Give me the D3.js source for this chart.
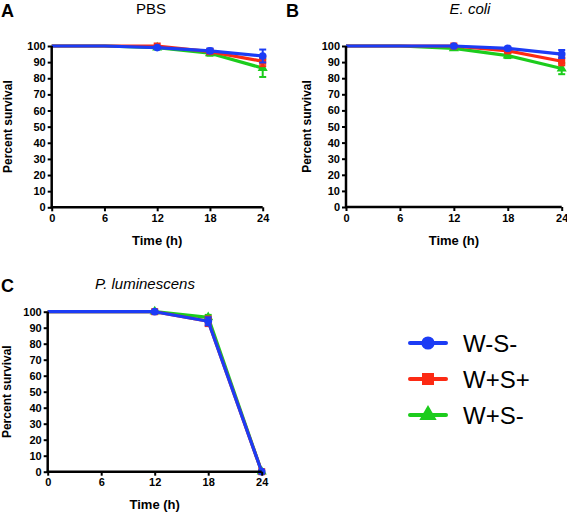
<!DOCTYPE html>
<html><head><meta charset="utf-8">
<script src="https://cdn.jsdelivr.net/npm/d3@7"></script>
<style>body{margin:0;background:#fff}svg{display:block}text{font-family:"Liberation Sans",Arial,sans-serif}</style>
</head><body><svg id="c" width="567" height="513"></svg>
<script>
const times = [0, 6, 12, 18, 24];
const yTicks = [0,10,20,30,40,50,60,70,80,90,100];
const seriesNames = ["W-S-", "W+S+", "W+S-"];
const seriesColors = ["#1c3cf5", "#fc2a14", "#1ccc1c"];
const seriesShapes = ["circle", "square", "triangle"];
// PBS
const pbsWS = [100, 100, 99, 97, 93.8];
const pbsWSerr = [0, 0, 0.5, 1.5, 4];
const pbsWpSp = [100, 100, 100, 96.5, 90.5];
const pbsWpSpErr = [0, 0, 0, 1.5, 3];
const pbsWpSm = [100, 100, 99, 95.5, 86.3];
const pbsWpSmErr = [0, 0, 0.5, 1.5, 5.5];
// E. coli
const ecoWS = [100, 100, 100, 98.5, 95];
const ecoWSerr = [0, 0, 0, 1, 2.5];
const ecoWpSp = [100, 100, 100, 97, 90.5];
const ecoWpSpErr = [0, 0, 0.5, 1, 2.5];
const ecoWpSm = [100, 100, 98.5, 94, 86];
const ecoWpSmErr = [0, 0, 0.5, 1.5, 3.5];
// P. luminescens
const pluWS = [100, 100, 100, 94, 0];
const pluWSerr = [0, 0, 0, 2.5, 0];
const pluWpSp = [100, 100, 100, 94, 0];
const pluWpSpErr = [0, 0, 0, 3, 0];
const pluWpSm = [100, 100, 100, 96.5, 0];
const pluWpSmErr = [0, 0, 0, 1.5, 0];

const panels = [
  {letter:"A", title:"PBS", italic:false, x0:51.7, x1:262.7, yTop:46, yBot:207.3, titleX:151, data:[pbsWS,pbsWpSp,pbsWpSm], err:[pbsWSerr,pbsWpSpErr,pbsWpSmErr], letterX:1, letterY:17, titleY:14, ylabX:8, xlabY:245},
  {letter:"B", title:"E. coli", italic:true, x0:346, x1:561.7, yTop:46, yBot:207, titleX:470, data:[ecoWS,ecoWpSp,ecoWpSm], err:[ecoWSerr,ecoWpSpErr,ecoWpSmErr], letterX:286, letterY:17, titleY:14, ylabX:307, xlabY:245},
  {letter:"C", title:"P. luminescens", italic:true, x0:47.7, x1:261.7, yTop:311.7, yBot:471.7, titleX:145, data:[pluWS,pluWpSp,pluWpSm], err:[pluWSerr,pluWpSpErr,pluWpSmErr], letterX:1, letterY:292, titleY:289, ylabX:7, xlabY:509}
];

const svg = d3.select("#c");

function drawMarker(g, shape, x, y, color, s) {
  if (shape === "circle") g.append("circle").attr("cx", x).attr("cy", y).attr("r", s*0.55).attr("fill", color);
  else if (shape === "square") g.append("rect").attr("x", x - s*0.5).attr("y", y - s*0.5).attr("width", s).attr("height", s).attr("fill", color);
  else g.append("path").attr("d", d3.symbol(d3.symbolTriangle, s*s*0.9)()).attr("transform", `translate(${x},${y})`).attr("fill", color);
}

panels.forEach(p => {
  const g = svg.append("g");
  const x = d3.scaleLinear().domain([0, 24]).range([p.x0, p.x1]);
  const y = d3.scaleLinear().domain([0, 100]).range([p.yBot, p.yTop]);

  [2, 1, 0].forEach(si => {
    const vals = p.data[si], errs = p.err[si], col = seriesColors[si];
    const sg = g.append("g");
    times.forEach((t, i) => {
      if (errs[i] > 0) {
        const cx = x(t), ya = y(vals[i] + errs[i]), yb = y(vals[i] - errs[i]);
        sg.append("line").attr("x1", cx).attr("x2", cx).attr("y1", ya).attr("y2", yb).attr("stroke", col).attr("stroke-width", 2);
        [ya, yb].forEach(yy => sg.append("line").attr("x1", cx - 3.5).attr("x2", cx + 3.5).attr("y1", yy).attr("y2", yy).attr("stroke", col).attr("stroke-width", 2));
      }
    });
    sg.append("path").datum(vals).attr("fill", "none").attr("stroke", col).attr("stroke-width", 3.2).attr("stroke-linejoin", "round")
      .attr("d", d3.line().x((d, i) => x(times[i])).y(d => y(d)));
    times.forEach((t, i) => { if (t >= 12) drawMarker(sg, seriesShapes[si], x(t), y(vals[i]), col, 7); });
  });

  const ya = g.append("g").attr("transform", `translate(${p.x0},0)`).call(d3.axisLeft(y).tickValues(yTicks).tickSize(4).tickPadding(2));
  const xa = g.append("g").attr("transform", `translate(0,${p.yBot})`).call(d3.axisBottom(x).tickValues(times).tickSize(4).tickPadding(3));
  [ya, xa].forEach(a => {
    a.select(".domain").attr("stroke", "#000").attr("stroke-width", 2.5);
    a.selectAll(".tick line").attr("stroke", "#000").attr("stroke-width", 2);
    a.selectAll(".tick text").attr("font-size", 11).attr("font-weight", "bold").attr("fill", "#000").attr("font-family", "Liberation Sans, Arial, sans-serif");
  });
  ya.select(".domain").attr("d", `M0,${p.yBot + 1}V${p.yTop}`);
  xa.select(".domain").attr("d", `M${p.x0 - 1},0H${p.x1}`);

  g.append("text").attr("x", p.letterX).attr("y", p.letterY).attr("font-size", 18).attr("font-weight", "bold").text(p.letter);
  g.append("text").attr("x", p.titleX).attr("y", p.titleY).attr("text-anchor", "middle").attr("font-size", 15)
    .attr("font-style", p.italic ? "italic" : "normal").text(p.title);
  g.append("text").attr("x", (p.x0 + p.x1) / 2).attr("y", p.xlabY).attr("text-anchor", "middle").attr("font-size", 13).attr("font-weight", "bold").text("Time (h)");
  g.append("text").attr("transform", `translate(${p.ylabX + 4},${(p.yTop + p.yBot) / 2}) rotate(-90)`).attr("text-anchor", "middle")
    .attr("font-size", 12).attr("font-weight", "bold").text("Percent survival");
});

const lg = svg.append("g");
seriesNames.forEach((n, i) => {
  const yy = 343 + i * 36;
  lg.append("line").attr("x1", 410).attr("x2", 446).attr("y1", yy).attr("y2", yy).attr("stroke", seriesColors[i]).attr("stroke-width", 4).attr("stroke-linecap", "round");
  drawMarker(lg, seriesShapes[i], 428, yy, seriesColors[i], 12);
  lg.append("text").attr("x", 463).attr("y", yy + 8.5).attr("font-size", 24).text(n);
});
</script></body></html>
